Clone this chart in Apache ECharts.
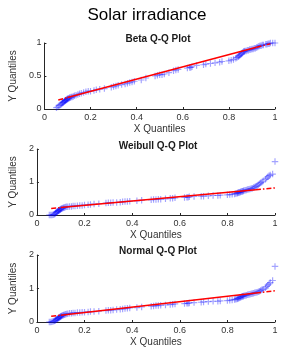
<!DOCTYPE html>
<html><head><meta charset="utf-8">
<script src="https://cdn.jsdelivr.net/npm/echarts@6/dist/echarts.min.js"></script>
<style>html,body{margin:0;padding:0;background:#fff}#c{width:284px;height:352px}</style>
</head><body><div id="c"></div>
<script>
// X quantiles (sorted sample)
var xQuant = [0.052,0.058,0.063,0.068,0.072,0.075,0.078,0.080,0.082,0.085,
0.087,0.089,0.091,0.093,0.095,0.097,0.099,0.101,0.103,0.106,
0.109,0.112,0.116,0.120,0.125,0.130,0.137,0.145,0.152,0.160,
0.170,0.180,0.190,0.200,0.215,0.225,0.240,0.260,0.290,0.300,
0.310,0.320,0.335,0.350,0.360,0.370,0.380,0.390,0.420,0.440,
0.480,0.490,0.500,0.510,0.520,0.540,0.560,0.570,0.580,0.620,
0.630,0.635,0.640,0.660,0.690,0.700,0.720,0.740,0.760,0.770,
0.800,0.810,0.820,0.830,0.835,0.840,0.843,0.846,0.849,0.852,
0.855,0.858,0.861,0.864,0.867,0.870,0.875,0.880,0.885,0.890,
0.895,0.900,0.905,0.910,0.915,0.920,0.925,0.930,0.935,0.940,
0.945,0.950,0.960,0.965,0.970,0.975,0.980,0.990,1.000];
var betaY = [0.02,0.03,0.05,0.06,0.07,0.08,0.09,0.10,0.10,0.11,
0.12,0.12,0.13,0.13,0.14,0.14,0.15,0.15,0.16,0.16,
0.17,0.17,0.18,0.18,0.19,0.20,0.21,0.22,0.23,0.24,
0.25,0.26,0.27,0.27,0.28,0.29,0.30,0.31,0.33,0.34,
0.35,0.36,0.37,0.38,0.39,0.40,0.41,0.42,0.44,0.47,
0.50,0.51,0.52,0.52,0.53,0.55,0.58,0.59,0.60,0.62,
0.63,0.63,0.64,0.66,0.67,0.68,0.69,0.70,0.71,0.72,
0.73,0.74,0.75,0.77,0.78,0.79,0.80,0.81,0.82,0.83,
0.84,0.85,0.86,0.87,0.87,0.88,0.88,0.89,0.89,0.90,
0.90,0.91,0.91,0.92,0.92,0.93,0.94,0.95,0.96,0.96,
0.97,0.97,0.98,0.98,0.99,0.99,1.00,1.00,1.00];
var weibullY = [0.00,0.00,0.00,0.01,0.02,0.03,0.05,0.07,0.08,0.10,
0.11,0.12,0.13,0.14,0.15,0.16,0.17,0.18,0.19,0.20,
0.21,0.22,0.23,0.24,0.25,0.25,0.26,0.26,0.27,0.27,
0.28,0.29,0.29,0.30,0.31,0.32,0.33,0.34,0.36,0.37,
0.37,0.38,0.38,0.39,0.40,0.41,0.41,0.42,0.43,0.45,
0.46,0.47,0.47,0.48,0.48,0.49,0.51,0.51,0.52,0.53,
0.54,0.54,0.55,0.56,0.57,0.57,0.58,0.59,0.59,0.60,
0.61,0.62,0.63,0.64,0.65,0.66,0.67,0.68,0.68,0.69,
0.70,0.71,0.71,0.72,0.73,0.74,0.75,0.76,0.77,0.78,
0.79,0.80,0.81,0.83,0.85,0.87,0.89,0.92,0.95,0.98,
1.00,1.03,1.08,1.12,1.16,1.19,1.21,1.24,1.62];
var normalY = [0.00,0.00,0.01,0.02,0.03,0.04,0.05,0.07,0.08,0.09,
0.10,0.11,0.12,0.13,0.14,0.15,0.16,0.17,0.18,0.19,
0.20,0.21,0.22,0.23,0.24,0.25,0.26,0.26,0.27,0.27,
0.28,0.28,0.29,0.29,0.30,0.31,0.31,0.32,0.34,0.35,
0.35,0.36,0.37,0.38,0.39,0.40,0.41,0.42,0.43,0.45,
0.47,0.48,0.49,0.49,0.50,0.51,0.52,0.53,0.54,0.55,
0.56,0.56,0.57,0.58,0.59,0.60,0.61,0.62,0.62,0.63,
0.64,0.65,0.66,0.67,0.68,0.69,0.70,0.71,0.72,0.73,
0.74,0.75,0.76,0.77,0.77,0.78,0.79,0.80,0.81,0.82,
0.83,0.84,0.85,0.86,0.87,0.88,0.89,0.90,0.92,0.94,
0.96,0.98,1.02,1.06,1.10,1.14,1.18,1.24,1.66];
// Reference lines: [start, solid start, solid end, end]
var betaFitX = [0.06,0.10,0.92,0.98];
var betaFitY = [0.136,0.173,0.936,0.99];
var weibullFitX = [0.06,0.10,0.92,1.00];
var weibullFitY = [0.20,0.226,0.768,0.82];
var normalFitX = [0.06,0.10,0.92,1.00];
var normalFitY = [0.17,0.202,0.865,0.93];
var panelTitles = ['Beta Q-Q Plot','Weibull Q-Q Plot','Normal Q-Q Plot'];
var yMax = [1,2,2];
var yStep = [0.5,1,1];

var FONT = 'Arial, "Liberation Sans", sans-serif';
var tops = [43,149,255];
var heights = [66,66,67];
var titleTops = [29,136,241];
var panels = [[betaY,betaFitX,betaFitY],[weibullY,weibullFitX,weibullFitY],[normalY,normalFitX,normalFitY]];
var plus = 'path://M0,4.1L10,4.1L10,5.9L0,5.9Z M4.1,0L5.9,0L5.9,10L4.1,10Z';

var grids=[],xAxes=[],yAxes=[],series=[],titles=[];
titles.push({text:'Solar irradiance',left:142,top:2,textAlign:'center',
  textStyle:{fontFamily:FONT,fontSize:17,fontWeight:'normal',color:'#000'}});
for (var i=0;i<3;i++){
  grids.push({left:32,right:9,top:tops[i],height:heights[i]});
  titles.push({text:panelTitles[i],left:153,top:titleTops[i],textAlign:'center',
    textStyle:{fontFamily:FONT,fontSize:10,fontWeight:'bold',color:'#1a1a1a'}});
  var axLine={show:true,lineStyle:{color:'#262626',width:1}};
  xAxes.push({type:'value',gridIndex:i,min:0,max:1,interval:0.2,
    name:'X Quantiles',nameLocation:'middle',nameGap:15,
    nameTextStyle:{fontFamily:FONT,fontSize:10,color:'#333'},
    axisLine:axLine,axisTick:{show:true,inside:true,length:2,lineStyle:{color:'#262626'}},
    axisLabel:{fontFamily:FONT,fontSize:9,color:'#333',margin:4},
    splitLine:{show:false}});
  yAxes.push({type:'value',gridIndex:i,min:0,max:yMax[i],interval:yStep[i],
    name:'Y Quantiles',nameLocation:'middle',nameGap:12,nameRotate:90,
    nameTextStyle:{fontFamily:FONT,fontSize:10,color:'#333'},
    axisLine:axLine,axisTick:{show:true,inside:true,length:2,lineStyle:{color:'#262626'}},
    axisLabel:{fontFamily:FONT,fontSize:9,color:'#333',margin:3},
    splitLine:{show:false}});
  var ys=panels[i][0], fx=panels[i][1], fy=panels[i][2];
  var pts=[]; for (var k=0;k<xQuant.length;k++) pts.push([xQuant[k],ys[k]]);
  series.push({type:'scatter',xAxisIndex:i,yAxisIndex:i,data:pts,symbol:plus,symbolSize:6.5,
    itemStyle:{color:'rgba(0,0,255,0.45)'},silent:true,z:2});
  var lsDash={color:'#ff0000',width:1.5,type:[5,2,1.5,2]};
  series.push({type:'line',xAxisIndex:i,yAxisIndex:i,data:[[fx[0],fy[0]],[fx[1],fy[1]]],
    showSymbol:false,lineStyle:lsDash,silent:true,z:3});
  series.push({type:'line',xAxisIndex:i,yAxisIndex:i,data:[[fx[1],fy[1]],[fx[2],fy[2]]],
    showSymbol:false,lineStyle:{color:'#ff0000',width:1.5},silent:true,z:3});
  series.push({type:'line',xAxisIndex:i,yAxisIndex:i,data:[[fx[2],fy[2]],[fx[3],fy[3]]],
    showSymbol:false,lineStyle:lsDash,silent:true,z:3});
}
var chart=echarts.init(document.getElementById('c'),null,{renderer:'canvas'});
chart.setOption({animation:false,title:titles,grid:grids,xAxis:xAxes,yAxis:yAxes,series:series});
</script></body></html>
